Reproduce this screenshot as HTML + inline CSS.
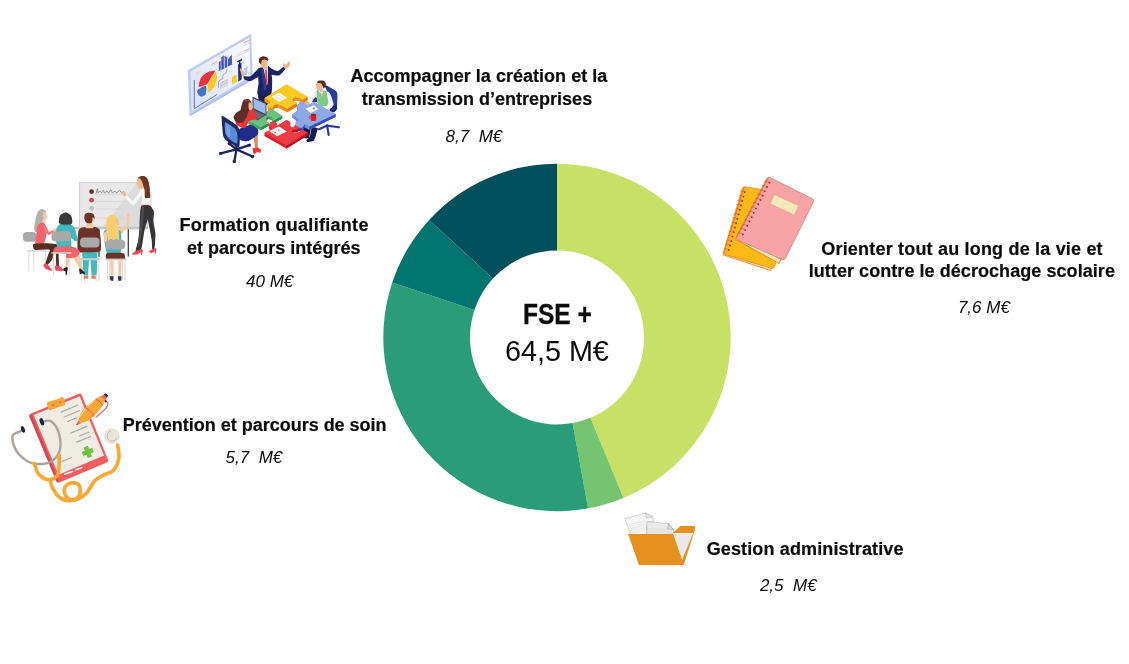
<!DOCTYPE html>
<html lang="fr">
<head>
<meta charset="utf-8">
<title>FSE+ 64,5 M€</title>
<style>
html,body{margin:0;padding:0;background:#fff;}
body{width:1129px;height:664px;position:relative;overflow:hidden;font-family:"Liberation Sans",sans-serif;color:#0b0b0b;}
.t{position:absolute;white-space:nowrap;line-height:1;}
.b{font-weight:bold;font-size:18px;-webkit-text-stroke:0.2px #0b0b0b;}
.i{font-style:italic;font-size:17px;}
svg{position:absolute;left:0;top:0;}
</style>
</head>
<body>
<svg id="chart" width="1129" height="664" viewBox="0 0 1129 664">
<path d="M557.00 163.75A173.7 173.7 0 0 1 623.47 497.93L590.29 417.83A87 87 0 0 0 557.00 250.45Z" fill="#C8E065"/>
<path d="M623.47 497.93A173.7 173.7 0 0 1 588.06 508.35L572.56 423.05A87 87 0 0 0 590.29 417.83Z" fill="#74C471"/>
<path d="M588.06 508.35A173.7 173.7 0 0 1 392.18 282.62L474.45 309.99A87 87 0 0 0 572.56 423.05Z" fill="#2A9D78"/>
<path d="M392.18 282.62A173.7 173.7 0 0 1 429.14 219.88L492.96 278.56A87 87 0 0 0 474.45 309.99Z" fill="#00756F"/>
<path d="M429.14 219.88A173.7 173.7 0 0 1 557.00 163.75L557.00 250.45A87 87 0 0 0 492.96 278.56Z" fill="#004F5C"/>
<g id="folder" transform="translate(610,500) scale(0.12048)">
<!-- back sheet -->
<path d="M125 155L292 108L352 138L366 182L312 182L300 290L170 290Z" fill="#f6f6f6" stroke="#8f8f8f" stroke-width="3" stroke-linejoin="round"/>
<path d="M292 108L305 150L352 138Z" fill="#ececec" stroke="#8f8f8f" stroke-width="3" stroke-linejoin="round"/>
<g stroke="#cfcfcf" stroke-width="3" fill="none">
<path d="M150 205L300 172"/><path d="M155 222L302 190"/><path d="M160 240L302 208"/><path d="M165 258L302 226"/><path d="M170 275L302 245"/>
</g>
<!-- front sheet -->
<path d="M306 180L488 196L528 250L528 290L306 290Z" fill="#ebebeb" stroke="#8f8f8f" stroke-width="3" stroke-linejoin="round"/>
<path d="M488 196L476 240L528 250Z" fill="#d6d6d6" stroke="#8f8f8f" stroke-width="3" stroke-linejoin="round"/>
<g stroke="#cdcdcd" stroke-width="3" fill="none"><path d="M312 238L470 245"/><path d="M312 258L520 262"/><path d="M312 274L522 276"/></g>
<!-- folder back -->
<path d="M528 266L584 215L705 215L705 246L612 540L560 540L520 283Z" fill="#e6911e"/>
<!-- inner paper -->
<path d="M522 274L690 274L598 497Z" fill="#e9e9e9"/>
<path d="M522 274L690 274L687 283L526 283Z" fill="#f7f7f7"/>
<!-- folder front -->
<path d="M150 283L520 283L610 540L240 540Z" fill="#e6911e"/>
</g>
<g id="notebooks" transform="translate(710,165) scale(0.18072)">
<path d="M72 497L83 478L345 560L335 584Z" fill="#f6ecc0" stroke="#f47a20" stroke-width="5" stroke-linejoin="round"/>
<path d="M192 120Q182 122 178 132L76 480Q74 492 86 496L340 572Q352 574 357 562L470 250L280 135Z" fill="#fbb918" stroke="#f47a20" stroke-width="4" stroke-linejoin="round"/>
<path d="M188 122L76 486" stroke="#f47a20" stroke-width="7" fill="none" stroke-linecap="round"/>
<path d="M192.0 150.0q-13.0 -11.0 -26.0 -4.0" stroke="#c8502c" stroke-width="3" fill="none"/>
<circle cx="192.0" cy="150.0" r="5" fill="#a02830"/>
<path d="M185.2 174.6q-13.0 -11.0 -26.0 -4.0" stroke="#c8502c" stroke-width="3" fill="none"/>
<circle cx="185.2" cy="174.6" r="5" fill="#a02830"/>
<path d="M178.5 199.2q-13.0 -11.0 -26.0 -4.0" stroke="#c8502c" stroke-width="3" fill="none"/>
<circle cx="178.5" cy="199.2" r="5" fill="#a02830"/>
<path d="M171.7 223.8q-13.0 -11.0 -26.0 -4.0" stroke="#c8502c" stroke-width="3" fill="none"/>
<circle cx="171.7" cy="223.8" r="5" fill="#a02830"/>
<path d="M164.9 248.5q-13.0 -11.0 -26.0 -4.0" stroke="#c8502c" stroke-width="3" fill="none"/>
<circle cx="164.9" cy="248.5" r="5" fill="#a02830"/>
<path d="M158.2 273.1q-13.0 -11.0 -26.0 -4.0" stroke="#c8502c" stroke-width="3" fill="none"/>
<circle cx="158.2" cy="273.1" r="5" fill="#a02830"/>
<path d="M151.4 297.7q-13.0 -11.0 -26.0 -4.0" stroke="#c8502c" stroke-width="3" fill="none"/>
<circle cx="151.4" cy="297.7" r="5" fill="#a02830"/>
<path d="M144.6 322.3q-13.0 -11.0 -26.0 -4.0" stroke="#c8502c" stroke-width="3" fill="none"/>
<circle cx="144.6" cy="322.3" r="5" fill="#a02830"/>
<path d="M137.8 346.9q-13.0 -11.0 -26.0 -4.0" stroke="#c8502c" stroke-width="3" fill="none"/>
<circle cx="137.8" cy="346.9" r="5" fill="#a02830"/>
<path d="M131.1 371.5q-13.0 -11.0 -26.0 -4.0" stroke="#c8502c" stroke-width="3" fill="none"/>
<circle cx="131.1" cy="371.5" r="5" fill="#a02830"/>
<path d="M124.3 396.2q-13.0 -11.0 -26.0 -4.0" stroke="#c8502c" stroke-width="3" fill="none"/>
<circle cx="124.3" cy="396.2" r="5" fill="#a02830"/>
<path d="M117.5 420.8q-13.0 -11.0 -26.0 -4.0" stroke="#c8502c" stroke-width="3" fill="none"/>
<circle cx="117.5" cy="420.8" r="5" fill="#a02830"/>
<path d="M110.8 445.4q-13.0 -11.0 -26.0 -4.0" stroke="#c8502c" stroke-width="3" fill="none"/>
<circle cx="110.8" cy="445.4" r="5" fill="#a02830"/>
<path d="M104.0 470.0q-13.0 -11.0 -26.0 -4.0" stroke="#c8502c" stroke-width="3" fill="none"/>
<circle cx="104.0" cy="470.0" r="5" fill="#a02830"/>
<path d="M140 410L152 392L395 518L382 545Z" fill="#f3e9b8" stroke="#f47a20" stroke-width="5" stroke-linejoin="round"/>
<path d="M330 68Q320 66 314 76L146 396Q142 408 154 414L400 524Q412 528 418 516L573 204Q577 192 566 186Z" fill="#f8a3a6" stroke="#c9606a" stroke-width="3" stroke-linejoin="round"/>
<path d="M322 70L146 402" stroke="#f47a20" stroke-width="7" fill="none" stroke-linecap="round"/>
<path d="M356 164L490 226L466 276L334 214Z" fill="#f3e9b8" stroke="#c9a46a" stroke-width="2" stroke-linejoin="round"/>
<path d="M328.0 98.0q-14.0 -13.0 -28.0 -8.0" stroke="#c04848" stroke-width="3" fill="none"/>
<circle cx="328.0" cy="98.0" r="5" fill="#a02830"/>
<path d="M315.8 121.8q-14.0 -13.0 -28.0 -8.0" stroke="#c04848" stroke-width="3" fill="none"/>
<circle cx="315.8" cy="121.8" r="5" fill="#a02830"/>
<path d="M303.7 145.7q-14.0 -13.0 -28.0 -8.0" stroke="#c04848" stroke-width="3" fill="none"/>
<circle cx="303.7" cy="145.7" r="5" fill="#a02830"/>
<path d="M291.5 169.5q-14.0 -13.0 -28.0 -8.0" stroke="#c04848" stroke-width="3" fill="none"/>
<circle cx="291.5" cy="169.5" r="5" fill="#a02830"/>
<path d="M279.3 193.3q-14.0 -13.0 -28.0 -8.0" stroke="#c04848" stroke-width="3" fill="none"/>
<circle cx="279.3" cy="193.3" r="5" fill="#a02830"/>
<path d="M267.2 217.2q-14.0 -13.0 -28.0 -8.0" stroke="#c04848" stroke-width="3" fill="none"/>
<circle cx="267.2" cy="217.2" r="5" fill="#a02830"/>
<path d="M255.0 241.0q-14.0 -13.0 -28.0 -8.0" stroke="#c04848" stroke-width="3" fill="none"/>
<circle cx="255.0" cy="241.0" r="5" fill="#a02830"/>
<path d="M242.8 264.8q-14.0 -13.0 -28.0 -8.0" stroke="#c04848" stroke-width="3" fill="none"/>
<circle cx="242.8" cy="264.8" r="5" fill="#a02830"/>
<path d="M230.7 288.7q-14.0 -13.0 -28.0 -8.0" stroke="#c04848" stroke-width="3" fill="none"/>
<circle cx="230.7" cy="288.7" r="5" fill="#a02830"/>
<path d="M218.5 312.5q-14.0 -13.0 -28.0 -8.0" stroke="#c04848" stroke-width="3" fill="none"/>
<circle cx="218.5" cy="312.5" r="5" fill="#a02830"/>
<path d="M206.3 336.3q-14.0 -13.0 -28.0 -8.0" stroke="#c04848" stroke-width="3" fill="none"/>
<circle cx="206.3" cy="336.3" r="5" fill="#a02830"/>
<path d="M194.2 360.2q-14.0 -13.0 -28.0 -8.0" stroke="#c04848" stroke-width="3" fill="none"/>
<circle cx="194.2" cy="360.2" r="5" fill="#a02830"/>
<path d="M182.0 384.0q-14.0 -13.0 -28.0 -8.0" stroke="#c04848" stroke-width="3" fill="none"/>
<circle cx="182.0" cy="384.0" r="5" fill="#a02830"/>
</g>
<g id="clipboard" transform="translate(0,380) scale(0.2032)">
<path d="M248.0 494.0C249.7 500.0 250.8 516.2 258.0 530.0C265.2 543.8 278.2 566.3 291.5 577.0C304.8 587.7 322.4 594.0 338.0 594.0C353.6 594.0 375.5 585.3 385.0 577.0C394.5 568.7 395.0 554.5 395.0 544.0C395.0 533.5 392.2 520.2 385.0 514.0C377.8 507.8 362.2 505.3 351.6 507.0C341.0 508.7 327.1 515.7 321.5 524.0C315.9 532.3 315.2 547.0 318.0 557.0C320.8 567.0 329.1 578.4 338.0 584.0C346.9 589.6 357.1 595.0 371.6 590.5C386.1 586.0 409.4 572.6 425.0 557.0C440.6 541.4 451.7 511.5 465.0 497.0C478.3 482.5 489.4 478.9 505.0 470.0C520.6 461.1 545.2 458.1 558.5 443.7C571.8 429.3 581.7 404.2 585.0 383.6C588.3 363.0 579.6 330.6 578.5 320.0" fill="none" stroke="#f9a834" stroke-width="18" stroke-linecap="round" stroke-linejoin="round"/>
<!-- board -->
<path d="M150 166L388 68Q398 64 402 74L532 392Q536 402 526 406L292 504Q282 508 278 498L146 180Q142 170 150 166Z" fill="#f25d5f"/>
<path d="M143 176L156 170L290 498L280 504Z" fill="#d84450"/>
<path d="M166 172L392 80L512 372L288 466Z" fill="#efece3"/>
<path d="M318 464L358 450M372 442L402 431" stroke="#fff" stroke-width="7" stroke-linecap="round" fill="none"/>
<!-- clip -->
<path d="M236 108L300 84Q310 82 314 90L322 112Q324 120 316 124L250 148Q240 150 238 142L230 120Q228 112 236 108Z" fill="#f9a834"/>
<circle cx="262" cy="124" r="7" fill="#f2707a"/><circle cx="296" cy="110" r="7" fill="#f2707a"/>
<path d="M262 98L296 86" stroke="#fff" stroke-width="5" stroke-linecap="round"/>
<g stroke="#b0a9a0" stroke-width="6" stroke-linecap="round" fill="none">
<path d="M300 158L380 124"/><path d="M316 182L392 150"/><path d="M332 204L378 186"/>
<path d="M346 262L428 228"/><path d="M392 276L438 256"/><path d="M378 306L446 278"/>
<path d="M306 400L352 382"/>
</g>
<path d="M412 332L432 324L438 340L454 334L462 354L446 360L452 376L432 384L426 368L410 374L402 354L418 348Z" fill="#6fc043"/>
<!-- grey tube -->
<path d="M108.0 250.0C106.3 250.6 105.8 249.0 98.0 253.5C90.2 258.0 64.3 262.0 61.0 277.0C57.7 292.0 66.3 323.6 78.0 343.6C89.7 363.6 112.2 385.3 131.0 397.0C149.8 408.7 169.8 413.7 191.0 413.7C212.2 413.7 240.7 408.7 258.0 397.0C275.3 385.3 290.0 366.9 295.0 343.6C300.0 320.3 295.2 280.4 288.0 257.0C280.8 233.7 264.0 212.4 251.5 203.5C239.0 194.6 219.4 203.5 213.0 203.5" fill="none" stroke="#aaa49c" stroke-width="12" stroke-linecap="round"/>
<path d="M168.0 410.0C171.8 419.0 179.3 450.7 191.0 464.0C202.7 477.3 222.3 490.0 238.0 490.0C253.7 490.0 276.1 484.0 285.0 464.0C293.9 444.0 290.4 385.7 291.5 370.0" fill="none" stroke="#f9a834" stroke-width="18" stroke-linecap="round"/>
<ellipse cx="113" cy="243" rx="9" ry="17" transform="rotate(-20 113 243)" fill="#1c2340"/>
<ellipse cx="206" cy="206" rx="10" ry="19" transform="rotate(-20 206 206)" fill="#1c2340"/>
<circle cx="550" cy="277" r="39" fill="#e9e5db"/>
<circle cx="552" cy="276" r="25" fill="none" stroke="#b9b3a8" stroke-width="4" stroke-dasharray="100 57" transform="rotate(20 552 276)"/>
<!-- pen -->
<g transform="translate(375.5,222.4) rotate(-45)">
<path d="M0 0L24 -10L24 10Z" fill="#f25d5f"/>
<path d="M0 0L7 -3L7 3Z" fill="#1c2340"/>
<path d="M18 0C40 -36 120 -38 190 -15L198 0L190 15C120 38 40 36 18 0Z" fill="#f9a834"/>
<path d="M188 -14L204 -10L204 10L188 14Z" fill="#f25d5f"/>
<path d="M203 -11L214 -8L214 8L203 11Z" fill="#1c2340"/>
<path d="M92 -32Q102 0 92 32" fill="none" stroke="#ee5f66" stroke-width="5"/>
<path d="M160 -24Q168 0 160 24" fill="none" stroke="#ee5f66" stroke-width="5"/>
<path d="M186 20C196 46 160 48 96 40" fill="none" stroke="#f25d5f" stroke-width="6" stroke-linecap="round"/>
<circle cx="186" cy="19" r="5" fill="#1c2340"/>
<path d="M45 -17L85 -25M108 -27L140 -24" stroke="#fdeccd" stroke-width="4" stroke-linecap="round"/>
</g>
</g>
<g id="classroom">
<path d="M99.0 227.8L99.0 256.8" fill="none" stroke="#3a3a3a" stroke-width="1.27" stroke-linecap="butt" stroke-linejoin="round" />
<path d="M128.3 227.8L128.3 256.4" fill="none" stroke="#3a3a3a" stroke-width="1.27" stroke-linecap="butt" stroke-linejoin="round" />
<rect x="79.0" y="181.9" width="69.2" height="45.5" rx="0.0" fill="#d2d2d2"/>
<rect x="80.1" y="183.0" width="67.2" height="43.4" rx="0.0" fill="#dcdcdc"/>
<path d="M80.1 183.0L136.4 183.0L103.9 226.4L80.1 226.4Z" fill="#e8e8e8" />
<rect x="73.6" y="227.1" width="74.6" height="2.2" rx="0.0" fill="#c4c4c4"/>
<circle cx="91.6" cy="191.7" r="2.35" fill="#6b3328"/>
<circle cx="91.6" cy="200.2" r="2.35" fill="#d8414f"/>
<circle cx="91.6" cy="208.3" r="2.35" fill="#bdbdbd"/>
<path d="M95.6 194.2L122.4 194.2" fill="none" stroke="#c6c6c6" stroke-width="0.45" stroke-linecap="round" stroke-linejoin="round" />
<path d="M95.6 201.4L122.4 201.4" fill="none" stroke="#c6c6c6" stroke-width="0.45" stroke-linecap="round" stroke-linejoin="round" />
<path d="M95.6 209.0L122.4 209.0" fill="none" stroke="#c6c6c6" stroke-width="0.45" stroke-linecap="round" stroke-linejoin="round" />
<path d="M95.6 218.1L122.4 218.1" fill="none" stroke="#c6c6c6" stroke-width="0.45" stroke-linecap="round" stroke-linejoin="round" />
<path d="M96.3 193.1C96.5 192.4 97.1 188.9 97.4 188.8C97.7 188.7 97.7 192.4 98.1 192.8C98.6 193.1 99.4 191.0 99.9 191.0C100.5 191.0 100.8 192.9 101.4 192.8C101.9 192.7 102.7 190.2 103.2 190.2C103.7 190.3 104.0 192.8 104.6 193.0C105.2 193.1 106.1 190.9 106.8 191.0C107.5 191.0 108.0 193.3 108.6 193.1C109.3 193.0 110.2 189.9 110.8 189.9C111.4 189.8 111.6 192.5 112.2 192.8C112.9 193.0 114.0 191.3 114.8 191.3C115.5 191.3 116.1 192.9 116.9 192.8C117.7 192.7 118.7 190.7 119.5 190.6C120.2 190.5 120.5 192.2 121.3 192.4C122.0 192.6 123.4 191.8 123.8 191.7" fill="none" stroke="#3a3030" stroke-width="0.45" stroke-linecap="round" stroke-linejoin="round" />
<path d="M138.0 178.1C138.0 177.4 139.8 176.5 140.7 176.2C141.6 176.0 143.8 175.9 144.7 176.2C145.6 176.6 146.9 177.7 147.5 178.8C148.0 180.0 148.8 182.5 149.2 184.9C149.5 187.4 150.5 195.4 150.3 197.1C150.1 198.9 148.2 198.0 147.5 198.1C146.7 198.1 145.2 198.5 144.7 197.5C144.3 196.4 144.6 191.9 144.4 190.3C144.2 188.8 143.9 186.8 143.4 185.6C142.9 184.4 141.4 182.5 140.7 181.5C140.0 180.5 138.0 178.8 138.0 178.1Z" fill="#6e3626" />
<path d="M137.2 179.5C137.5 178.6 138.5 177.9 139.3 178.3C140.1 178.6 141.4 180.2 142.0 181.5C142.6 182.9 143.1 185.2 142.8 186.3C142.6 187.3 141.5 187.6 140.7 187.8C139.9 187.9 138.6 187.6 138.0 186.9C137.3 186.2 137.1 184.8 136.9 183.6C136.8 182.3 136.8 180.4 137.2 179.5Z" fill="#f6b98b" />
<path d="M140.4 186.3L143.4 185.7L144.1 189.8L141.4 190.2Z" fill="#f6b98b" />
<path d="M141.5 189.5C141.7 188.7 143.3 188.4 144.1 188.4C144.8 188.5 148.1 189.5 148.8 190.3C149.5 191.2 150.5 195.6 150.7 197.1C150.9 198.6 151.3 204.3 150.4 205.1C149.5 205.9 142.6 205.9 141.8 205.1C140.9 204.3 142.3 198.7 142.3 197.1C142.3 195.6 141.3 190.4 141.5 189.5Z" fill="#f7f7f7" />
<path d="M148.9 190.6L151.4 192.4L152.1 200.5L150.4 205.1L150.0 197.1Z" fill="#e4e4e4" />
<path d="M141.1 189.4L144.6 191.2L134.0 205.5L131.1 203.8Z" fill="#f8f8f8" />
<path d="M131.1 203.8L134.0 205.5L133.5 201.9L126.3 194.9L124.4 196.7Z" fill="#f8f8f8" />
<path d="M134.0 205.5L133.5 202.1" fill="none" stroke="#dcdcdc" stroke-width="0.27" stroke-linecap="round" stroke-linejoin="round" />
<path d="M121.8 192.4C122.1 191.9 123.0 191.3 123.7 191.6C124.5 191.8 125.8 193.0 126.2 193.7C126.5 194.5 126.3 195.8 125.9 196.2C125.5 196.5 124.3 196.2 123.7 195.9C123.1 195.6 122.6 195.0 122.2 194.4C121.9 193.8 121.6 192.8 121.8 192.4Z" fill="#f6b98b" />
<path d="M143.1 183.6C143.4 182.2 146.0 180.0 146.8 180.2C147.6 180.4 148.5 182.7 148.9 184.9C149.4 187.2 150.5 195.4 150.3 197.1C150.1 198.9 148.2 198.0 147.5 198.1C146.8 198.1 145.4 198.5 145.0 197.5C144.6 196.4 144.9 192.2 144.6 190.3C144.4 188.5 142.8 184.9 143.1 183.6Z" fill="#6e3626" />
<path d="M141.6 204.7L150.4 204.7L150.4 206.2L141.4 206.2Z" fill="#f0605f" />
<path d="M145.6 206.1C145.9 204.9 149.5 205.5 150.3 206.1C151.2 206.6 153.5 210.2 153.9 211.7C154.2 213.3 153.3 219.4 153.5 221.5C153.6 223.7 155.3 231.1 155.4 233.3C155.6 235.4 155.1 241.5 155.0 243.1C154.9 244.6 154.7 248.3 154.4 248.9C154.2 249.6 152.6 250.3 152.3 249.5C152.0 248.7 152.0 243.1 151.8 241.1C151.6 239.1 150.3 231.7 149.8 229.4C149.4 227.0 147.8 219.9 147.4 217.6C147.0 215.3 145.3 207.2 145.6 206.1Z" fill="#353537" />
<path d="M141.5 206.1C142.5 205.2 148.6 205.0 149.4 206.1C150.1 207.1 149.0 214.3 148.6 216.6C148.1 219.0 145.2 227.1 144.7 229.4C144.1 231.6 143.4 237.1 143.1 239.1C142.7 241.1 141.9 248.1 141.1 249.3C140.4 250.5 136.0 252.1 135.7 251.3C135.3 250.5 137.6 243.3 138.0 241.1C138.4 238.9 139.2 232.0 139.4 229.4C139.6 226.7 139.7 217.0 140.0 214.7C140.2 212.3 140.6 206.9 141.5 206.1Z" fill="#353537" />
<path d="M142.1 207.8C142.5 205.7 144.1 205.7 144.1 207.8C144.1 210.0 142.6 225.5 142.1 229.4C141.6 233.2 139.6 244.2 139.2 246.0C138.7 247.7 137.7 248.6 137.8 247.0C137.9 245.3 139.7 233.3 140.2 229.4C140.6 225.4 141.7 210.0 142.1 207.8Z" fill="#505054" />
<path d="M132.1 253.6L135.7 250.9L141.1 248.9L142.9 249.9L142.1 255.0L141.1 255.0L140.7 252.1L137.6 254.4L132.7 254.8Z" fill="#f0484f" />
<path d="M148.8 250.9L152.3 249.4L155.2 247.9L156.4 248.9L155.8 253.8L154.8 253.8L154.6 251.1L151.8 253.2L149.2 252.1Z" fill="#f0484f" />
<path d="M81.5 259.6L81.5 281.2" fill="none" stroke="#d9d9d9" stroke-width="1.08" stroke-linecap="butt" stroke-linejoin="round" />
<path d="M84.4 259.6L84.4 281.2" fill="none" stroke="#d9d9d9" stroke-width="1.08" stroke-linecap="butt" stroke-linejoin="round" />
<path d="M96.0 259.6L96.0 281.2" fill="none" stroke="#d9d9d9" stroke-width="1.08" stroke-linecap="butt" stroke-linejoin="round" />
<path d="M98.9 259.6L98.9 281.2" fill="none" stroke="#d9d9d9" stroke-width="1.08" stroke-linecap="butt" stroke-linejoin="round" />
<path d="M78.3 231.4C78.6 229.0 80.6 227.9 82.2 227.5C83.9 227.0 93.1 226.8 94.9 227.1C96.6 227.4 99.0 228.3 99.6 230.7C100.1 233.1 102.4 249.2 100.3 251.3C98.2 253.4 80.8 253.7 78.6 251.7C76.4 249.7 77.9 233.9 78.3 231.4Z" fill="#6b3328" />
<path d="M86.2 222.4L92.7 222.4L93.4 228.2L85.8 228.2Z" fill="#f6c9a6" />
<circle cx="89.5" cy="218.4" r="4.88" fill="#f6c9a6"/>
<path d="M84.4 218.8C84.2 217.4 84.3 215.1 85.1 214.1C86.0 213.1 88.0 212.6 89.5 212.7C90.9 212.7 93.0 213.4 93.8 214.5C94.6 215.5 94.7 218.7 94.5 219.2C94.3 219.6 93.2 216.7 92.7 217.4C92.2 218.0 92.7 221.9 91.6 222.8C90.6 223.7 87.8 223.4 86.6 222.8C85.4 222.1 84.6 220.2 84.4 218.8Z" fill="#6b3328" />
<path d="M82.2 252.2L97.4 252.2L96.7 274.8L91.6 275.5L90.5 260.4L89.1 260.4L88.0 275.5L83.3 274.8Z" fill="#45b8bf" />
<rect x="80.1" y="237.6" width="19.5" height="9.8" rx="4.0" fill="#a9a9a9"/>
<rect x="79.7" y="258.2" width="20.2" height="2.0" rx="0.0" fill="#cfcfcf"/>
<path d="M84.0 275.5L88.4 275.5L88.4 278.8L83.7 278.8Z" fill="#c98d6a" />
<path d="M91.3 275.5L95.6 275.5L96.0 278.8L91.3 278.8Z" fill="#c98d6a" />
<path d="M107.5 260.0L107.5 280.6" fill="none" stroke="#d9d9d9" stroke-width="1.08" stroke-linecap="butt" stroke-linejoin="round" />
<path d="M109.7 260.0L109.7 280.6" fill="none" stroke="#d9d9d9" stroke-width="1.08" stroke-linecap="butt" stroke-linejoin="round" />
<path d="M122.4 260.0L122.4 280.6" fill="none" stroke="#d9d9d9" stroke-width="1.08" stroke-linecap="butt" stroke-linejoin="round" />
<path d="M124.9 260.0L124.9 280.6" fill="none" stroke="#d9d9d9" stroke-width="1.08" stroke-linecap="butt" stroke-linejoin="round" />
<path d="M118.4 231.1L122.4 233.3L129.2 224.2L129.9 215.2L127.8 211.9L126.7 215.5L127.1 223.5Z" fill="#f6c9a6" />
<path d="M103.6 233.3C103.5 230.7 105.3 230.0 106.8 229.6C108.3 229.3 116.9 229.2 118.4 229.6C119.8 230.0 121.1 231.1 121.3 233.6C121.4 236.1 121.6 252.8 120.2 254.9C118.8 257.1 109.2 257.1 107.5 254.9C105.9 252.8 103.6 235.8 103.6 233.3Z" fill="#45b8bf" />
<path d="M103.6 233.3L106.8 230.7L107.2 242.3L104.3 242.3Z" fill="#f6c9a6" />
<path d="M106.1 224.2C106.2 222.4 106.8 218.5 107.5 217.4C108.2 216.2 111.1 214.5 112.2 214.5C113.3 214.5 116.2 216.2 116.9 217.4C117.6 218.5 118.1 221.5 118.4 224.2C118.6 227.0 119.4 239.2 119.1 240.8C118.8 242.5 116.8 238.6 116.2 238.7C115.6 238.8 114.3 241.9 113.7 241.9C113.1 241.9 111.8 238.8 111.1 238.7C110.5 238.6 108.8 241.8 108.3 241.2C107.7 240.6 107.1 235.2 106.8 233.3C106.6 231.3 106.0 226.1 106.1 224.2Z" fill="#f7ce6b" />
<path d="M116.2 219.2C116.4 218.4 117.7 219.8 118.0 220.6C118.4 221.4 118.6 223.5 118.4 224.2C118.2 224.9 117.3 225.8 116.9 224.9C116.6 224.1 116.0 219.9 116.2 219.2Z" fill="#f3b98f" />
<rect x="105.4" y="239.8" width="19.9" height="9.4" rx="4.0" fill="#a9a9a9"/>
<path d="M107.2 253.1C108.8 252.5 121.7 252.5 123.4 253.1C125.1 253.8 125.8 258.7 124.2 259.3C122.5 259.9 108.5 259.9 106.8 259.3C105.1 258.7 105.5 253.8 107.2 253.1Z" fill="#6b3328" />
<rect x="105.4" y="258.6" width="21.3" height="1.8" rx="0.0" fill="#cfcfcf"/>
<path d="M110.1 260.4L113.7 260.4L113.3 277.0L110.8 277.0Z" fill="#f6c9a6" />
<path d="M118.0 260.4L121.6 260.4L120.9 277.0L118.4 277.0Z" fill="#f6c9a6" />
<path d="M109.7 276.3L113.7 276.3L113.3 281.0L110.4 280.6Z" fill="#2d3556" />
<path d="M117.7 276.3L121.6 276.3L121.3 280.6L118.4 281.0Z" fill="#2d3556" />
<path d="M28.8 251.2L28.8 271.1" fill="none" stroke="#d9d9d9" stroke-width="0.90" stroke-linecap="butt" stroke-linejoin="round" />
<path d="M33.8 251.2L33.8 271.1" fill="none" stroke="#d9d9d9" stroke-width="0.90" stroke-linecap="butt" stroke-linejoin="round" />
<path d="M45.5 251.2L45.5 264.0" fill="none" stroke="#d9d9d9" stroke-width="0.90" stroke-linecap="butt" stroke-linejoin="round" />
<rect x="22.9" y="232.0" width="13.6" height="9.7" rx="3.6" fill="#a9a9a9"/>
<rect x="26.8" y="250.2" width="20.5" height="1.4" rx="0.0" fill="#d4d4d4"/>
<path d="M38.0 211.5C38.9 210.2 40.9 209.1 41.9 209.0C42.9 208.9 45.3 210.1 45.7 210.8C46.2 211.4 45.5 213.0 45.2 214.1C44.9 215.2 44.0 217.7 43.4 219.2C42.9 220.7 42.1 223.9 41.2 225.6C40.4 227.3 37.7 231.5 36.8 232.0C35.8 232.5 34.4 231.2 34.2 229.4C34.0 227.7 35.0 221.6 35.5 219.2C36.0 216.8 37.2 212.9 38.0 211.5Z" fill="#b5b1ae" />
<path d="M43.4 212.3C43.9 211.5 45.2 211.3 45.7 211.8C46.3 212.3 46.5 214.5 46.8 215.4C47.0 216.2 47.3 216.3 47.3 216.9C47.2 217.5 46.8 218.7 46.2 219.2C45.7 219.7 44.7 220.4 44.2 220.0C43.6 219.5 43.0 217.9 42.9 216.6C42.8 215.4 43.0 213.1 43.4 212.3Z" fill="#f6c9a6" />
<path d="M42.7 219.2L45.2 219.2L45.0 223.8L42.1 223.8Z" fill="#f6c9a6" />
<path d="M37.5 225.6C38.2 224.4 41.4 222.5 42.4 222.5C43.4 222.5 45.2 224.4 45.7 225.6C46.2 226.9 46.7 231.2 46.5 233.3C46.3 235.4 45.2 242.3 43.9 243.5C42.6 244.8 36.4 245.2 35.5 244.0C34.6 242.8 36.3 235.4 36.5 233.3C36.7 231.1 36.8 226.9 37.5 225.6Z" fill="#f0656d" />
<path d="M43.4 225.1L46.2 226.4L49.1 232.0L54.4 229.7L55.2 231.5L48.5 235.3L45.2 232.3Z" fill="#f3777d" />
<path d="M53.4 229.2C53.8 228.7 55.6 228.3 56.2 228.4C56.9 228.6 57.4 229.7 57.2 230.2C57.1 230.8 56.1 231.6 55.5 231.8C54.9 231.9 54.0 231.7 53.7 231.2C53.3 230.8 53.0 229.7 53.4 229.2Z" fill="#f6c9a6" />
<path d="M33.7 244.0C34.8 243.6 42.1 243.2 44.4 243.3C46.8 243.3 55.4 243.9 56.7 244.3C58.1 244.7 57.9 247.0 57.8 247.6C57.7 248.2 56.3 248.9 55.7 250.2C55.1 251.4 52.4 258.7 51.6 260.2C50.8 261.6 48.4 264.2 47.8 264.5C47.2 264.9 45.4 264.6 45.5 263.5C45.5 262.4 48.1 255.2 48.5 253.8C49.0 252.4 50.9 250.1 49.6 249.7C48.3 249.3 37.1 250.2 35.5 249.9C33.8 249.7 33.4 248.0 33.2 247.4C33.0 246.8 32.6 244.5 33.7 244.0Z" fill="#5a2d22" />
<path d="M55.7 250.2L58.5 251.2L59.0 266.1L56.2 266.1Z" fill="#5a2d22" />
<path d="M44.2 263.5L48.0 264.8L51.9 269.6L51.4 270.9L45.7 269.1L43.4 266.1Z" fill="#ee4b5b" />
<path d="M55.5 265.5L59.3 265.8L63.4 269.6L62.9 270.9L55.7 270.7L54.7 267.9Z" fill="#ee4b5b" />
<path d="M53.4 253.5L53.4 275.0" fill="none" stroke="#d9d9d9" stroke-width="1.02" stroke-linecap="butt" stroke-linejoin="round" />
<path d="M69.3 253.5L69.3 275.0" fill="none" stroke="#d9d9d9" stroke-width="1.02" stroke-linecap="butt" stroke-linejoin="round" />
<path d="M67.2 253.5L67.2 275.0" fill="none" stroke="#d9d9d9" stroke-width="0.77" stroke-linecap="butt" stroke-linejoin="round" />
<path d="M71.3 253.8L79.0 253.8L84.1 271.7L81.6 272.5Z" fill="#f6c9a6" />
<path d="M66.2 256.3L70.1 256.3L67.5 269.1L65.7 269.1Z" fill="#f6c9a6" />
<path d="M56.2 229.4C56.5 227.2 58.3 225.3 59.8 224.8C61.3 224.4 69.8 224.4 71.3 224.8C72.9 225.3 74.5 227.9 75.2 229.4C75.8 231.0 77.7 238.8 77.7 239.9C77.7 241.1 75.8 241.4 75.2 241.2C74.5 241.1 71.8 237.8 71.3 238.4C70.9 239.0 72.2 246.0 70.8 246.9C69.4 247.7 58.7 248.6 57.2 246.9C55.8 245.1 56.0 231.6 56.2 229.4Z" fill="#45b8bf" />
<path d="M59.3 223.8L71.3 223.8L70.8 225.6L59.8 225.6Z" fill="#3aa3aa" />
<path d="M59.2 223.0C58.4 221.8 59.2 216.8 60.1 215.4C60.9 214.0 64.2 212.5 65.7 212.5C67.2 212.6 70.2 214.2 71.1 215.6C71.9 217.1 72.8 222.4 72.1 223.6C71.4 224.8 67.4 224.6 65.7 224.6C64.0 224.5 59.9 224.3 59.2 223.0Z" fill="#3b3b3b" />
<path d="M55.7 247.1C57.5 246.4 69.0 246.0 71.3 246.3C73.7 246.7 78.2 249.4 79.0 250.2C79.8 250.9 79.9 253.0 79.5 253.8C79.1 254.5 76.5 257.2 75.2 257.6C73.8 258.0 67.2 258.3 66.2 257.9C65.3 257.5 67.0 254.3 65.7 253.8C64.4 253.3 54.4 253.7 53.4 253.0C52.4 252.3 53.9 247.8 55.7 247.1Z" fill="#f0656d" />
<rect x="51.5" y="231.2" width="19.5" height="10.0" rx="3.8" fill="#a9a9a9"/>
<rect x="51.4" y="252.2" width="20.0" height="1.5" rx="0.0" fill="#d4d4d4"/>
<path d="M63.1 269.1L66.7 266.8L67.7 267.9L66.7 275.0L65.7 275.0L65.4 271.2L63.6 270.7Z" fill="#222" />
<path d="M79.0 269.1L80.5 268.6L85.2 272.7L84.6 274.3L81.6 273.2L80.8 274.3L79.8 274.3Z" fill="#222" />
</g>
<g id="meeting">
<defs><linearGradient id="bg" x1="1" y1="0" x2="0" y2="1"><stop offset="0" stop-color="#fbfcff"/><stop offset="1" stop-color="#d6e0f9"/></linearGradient></defs>
<path d="M187.8 70.2L251.1 33.7L252.9 79.5L189.6 116.2Z" fill="#bccaf5" />
<path d="M189.6 114.7L252.9 78.0L252.9 79.5L189.6 116.2Z" fill="#aabcf0" />
<path d="M190.2 71.7L249.3 37.6L250.5 76.5L191.7 112.0Z" fill="url(#bg)" />
<path d="M194.3 80.0L194.3 108.6L216.9 94.6" fill="none" stroke="#1d2b6e" stroke-width="0.60" stroke-linecap="butt" stroke-linejoin="round" />
<path d="M198.8 86.7C198.1 86.0 200.0 79.4 201.1 77.7C202.1 76.0 206.2 72.8 207.9 72.0C209.5 71.2 214.6 70.3 214.9 70.9C215.3 71.6 211.8 76.2 210.9 77.7C210.0 79.2 208.5 83.0 207.1 84.0C205.7 85.1 199.5 87.5 198.8 86.7Z" fill="#e8343f" />
<path d="M215.8 72.0C216.5 71.9 217.2 76.0 217.0 77.7C216.9 79.4 215.3 85.0 214.3 86.7C213.3 88.4 209.4 92.7 208.6 92.4C207.8 92.2 207.4 86.6 207.7 84.9C208.1 83.2 210.7 79.5 211.6 78.0C212.6 76.5 215.2 72.0 215.8 72.0Z" fill="#f9cb1e" />
<path d="M197.5 90.0C198.4 89.1 204.9 85.3 205.9 85.8C206.8 86.4 206.2 93.3 205.6 94.6C205.0 95.8 202.0 96.7 201.1 96.7C200.2 96.6 198.5 95.0 198.1 94.3C197.6 93.5 196.6 91.0 197.5 90.0Z" fill="#4a72c4" />
<path d="M218.8 61.9L220.7 60.8L220.7 70.2L218.8 71.1Z" fill="#3a5fc0" />
<path d="M221.3 57.4L223.7 55.1L224.0 68.7L221.3 69.9Z" fill="#3a5fc0" />
<path d="M224.6 55.9L227.0 57.4L227.3 66.9L224.6 68.4Z" fill="#3a5fc0" />
<path d="M227.9 59.6L231.8 54.4L232.1 64.4L227.9 66.6Z" fill="#3a5fc0" />
<path d="M219.4 70.2C220.0 68.4 221.8 62.0 222.9 59.6C224.0 57.2 224.9 55.7 225.9 55.9C226.9 56.0 227.9 59.0 228.9 60.4C229.9 61.8 231.4 63.8 231.9 64.4" fill="none" stroke="#e8343f" stroke-width="0.45" stroke-linecap="round" stroke-linejoin="round" />
<path d="M218.5 88.2L218.5 81.0L222.9 78.4L222.9 74.7L225.9 72.9L227.0 69.0" fill="none" stroke="#2a3f9a" stroke-width="0.38" stroke-linecap="butt" stroke-linejoin="round" />
<path d="M211.6 64.4L217.0 61.4" fill="none" stroke="#e8343f" stroke-width="0.45" stroke-linecap="butt" stroke-linejoin="round" />
<path d="M211.9 66.0L217.3 62.9" fill="none" stroke="#f6a28c" stroke-width="0.45" stroke-linecap="butt" stroke-linejoin="round" />
<path d="M195.8 73.5L201.2 70.5" fill="none" stroke="#f9cb1e" stroke-width="0.45" stroke-linecap="butt" stroke-linejoin="round" />
<path d="M196.3 75.0L201.7 72.0" fill="none" stroke="#f9cb1e" stroke-width="0.45" stroke-linecap="butt" stroke-linejoin="round" />
<path d="M236.5 55.1L241.9 52.1" fill="none" stroke="#f9cb1e" stroke-width="0.45" stroke-linecap="butt" stroke-linejoin="round" />
<path d="M236.6 56.6L242.0 53.6" fill="none" stroke="#9db4ee" stroke-width="0.45" stroke-linecap="butt" stroke-linejoin="round" />
<path d="M244.1 42.8L249.6 39.8" fill="none" stroke="#e8343f" stroke-width="0.45" stroke-linecap="butt" stroke-linejoin="round" />
<path d="M244.3 44.3L249.7 41.3" fill="none" stroke="#f6a28c" stroke-width="0.45" stroke-linecap="butt" stroke-linejoin="round" />
<path d="M244.4 45.8L249.9 42.8" fill="none" stroke="#9db4ee" stroke-width="0.45" stroke-linecap="butt" stroke-linejoin="round" />
<path d="M244.1 51.5L249.6 48.5" fill="none" stroke="#e8343f" stroke-width="0.45" stroke-linecap="butt" stroke-linejoin="round" />
<path d="M244.3 53.0L249.7 50.0" fill="none" stroke="#9db4ee" stroke-width="0.45" stroke-linecap="butt" stroke-linejoin="round" />
<path d="M220.3 83.4L227.9 79.5" fill="none" stroke="#e8343f" stroke-width="0.38" stroke-linecap="butt" stroke-linejoin="round" />
<path d="M220.3 84.8L227.9 80.9" fill="none" stroke="#9db4ee" stroke-width="0.38" stroke-linecap="butt" stroke-linejoin="round" />
<path d="M220.3 86.1L227.9 82.2" fill="none" stroke="#e8343f" stroke-width="0.38" stroke-linecap="butt" stroke-linejoin="round" />
<path d="M220.3 87.5L227.9 83.6" fill="none" stroke="#9db4ee" stroke-width="0.38" stroke-linecap="butt" stroke-linejoin="round" />
<path d="M220.3 88.8L227.9 84.9" fill="none" stroke="#9db4ee" stroke-width="0.38" stroke-linecap="butt" stroke-linejoin="round" />
<path d="M231.9 76.9L236.5 74.4L236.6 81.9L232.1 84.5Z" fill="#f9cb1e" />
<path d="M238.0 64.4L241.4 62.6L241.7 79.5L238.3 81.5Z" fill="#1f2d8b" />
<path d="M237.2 61.1L242.0 58.7L242.2 60.2L240.2 61.4L240.2 63.5L239.0 64.1L239.0 62.0L237.4 62.6Z" fill="#1f2d8b" />
<path d="M243.8 68.7L248.1 66.4L248.1 67.6L247.1 68.2L247.3 73.9L244.7 75.3L244.7 69.6L243.8 69.9Z" fill="#a9c4f2" />
<path d="M258.0 91.2L270.9 91.2L270.0 103.3L264.3 106.3L258.6 103.3Z" fill="#141d4d" />
<path d="M258.3 69.0C259.5 68.4 262.2 69.6 262.5 70.2C262.8 70.7 262.5 73.6 261.3 74.7C260.1 75.8 252.4 80.5 250.8 81.0C249.1 81.5 245.1 80.0 244.4 79.5C243.7 79.0 243.2 76.5 243.8 76.2C244.4 75.9 249.0 76.9 250.5 76.2C251.9 75.5 257.1 69.6 258.3 69.0Z" fill="#1a2562" />
<path d="M239.9 68.7C240.2 68.3 241.2 68.9 242.0 69.6C242.8 70.3 244.3 71.8 244.7 72.9C245.1 74.0 244.9 75.9 244.4 76.2C243.9 76.5 242.4 75.4 241.7 74.7C241.1 73.9 240.8 72.7 240.5 71.7C240.2 70.7 239.7 69.0 239.9 68.7Z" fill="#f2b48c" />
<path d="M268.1 66.0C268.4 65.7 270.9 68.1 271.8 68.7C272.8 69.2 276.7 71.3 277.9 71.1C279.1 70.9 283.1 66.8 283.9 66.6C284.6 66.3 285.8 68.1 285.4 69.0C284.9 69.8 280.7 74.7 279.4 75.3C278.0 75.9 272.9 75.0 271.8 74.7C270.8 74.3 268.9 72.5 268.5 71.7C268.2 70.8 267.7 66.3 268.1 66.0Z" fill="#1a2562" />
<path d="M283.9 62.9C284.4 62.7 285.4 64.7 286.3 64.4C287.1 64.1 288.4 61.1 289.0 61.1C289.6 61.1 290.1 63.3 289.9 64.4C289.7 65.6 288.7 67.4 287.8 68.1C286.9 68.7 285.5 68.7 284.8 68.4C284.0 68.0 283.4 66.9 283.3 66.0C283.1 65.0 283.4 63.2 283.9 62.9Z" fill="#f2b48c" />
<path d="M257.7 69.0C258.3 67.5 263.0 67.2 264.3 67.2C265.6 67.2 269.6 67.8 270.3 69.0C271.1 70.2 272.1 76.6 272.1 79.2C272.2 81.8 272.4 93.0 270.9 94.6C269.5 96.1 258.9 95.8 257.7 94.6C256.5 93.3 258.6 84.8 258.6 82.2C258.6 79.7 257.1 70.5 257.7 69.0Z" fill="#1a2562" />
<path d="M263.1 68.4L267.9 67.8L267.9 85.2L265.8 79.2Z" fill="#f4f4f8" />
<path d="M265.2 69.6L266.7 69.6L267.6 84.6L266.4 85.8L265.5 84.6Z" fill="#e8343f" />
<path d="M261.3 68.7L263.7 68.1L266.4 88.2L265.2 91.2L263.7 88.2Z" fill="#2a3d94" />
<path d="M262.5 65.7L266.4 65.0L266.7 69.0L263.7 69.6Z" fill="#f2b48c" />
<path d="M260.1 60.5C260.6 59.5 262.6 58.5 263.7 58.4C264.9 58.3 266.4 58.9 267.0 59.9C267.6 60.9 267.6 63.2 267.3 64.4C267.0 65.7 266.1 67.0 265.2 67.5C264.3 67.9 262.7 67.7 261.9 67.2C261.1 66.7 260.7 65.6 260.4 64.4C260.1 63.3 259.5 61.5 260.1 60.5Z" fill="#f2b48c" />
<path d="M258.9 61.7C258.7 60.7 259.0 58.7 259.8 57.8C260.6 56.9 262.4 56.3 263.7 56.3C265.0 56.3 266.9 57.1 267.6 57.8C268.3 58.6 268.4 60.5 267.9 60.8C267.5 61.1 265.9 59.7 264.9 59.6C263.9 59.6 262.6 59.8 261.9 60.5C261.3 61.2 261.5 63.6 261.0 63.8C260.5 64.0 259.1 62.7 258.9 61.7Z" fill="#5a2d1e" />
<path d="M324.8 86.3C324.8 85.7 326.0 85.2 327.1 85.7C328.2 86.2 335.1 90.3 336.1 91.3C337.2 92.2 337.3 93.3 337.4 94.9C337.5 96.4 337.2 105.1 337.0 106.6C336.9 108.2 336.2 109.9 335.8 110.4C335.3 110.9 333.1 111.6 332.5 111.5C331.9 111.4 330.0 110.6 329.8 109.3C329.6 108.0 331.0 100.3 330.7 98.5C330.4 96.7 327.7 92.5 327.1 91.3C326.5 90.0 324.8 86.9 324.8 86.3Z" fill="#2a3a9a" />
<path d="M329.8 106.8C330.4 106.2 335.8 105.2 336.5 105.4C337.2 105.5 337.4 107.9 337.2 108.6C337.0 109.3 335.0 111.9 334.3 112.2C333.6 112.5 330.8 112.0 330.4 111.5C329.9 111.0 329.2 107.4 329.8 106.8Z" fill="#1c2870" />
<path d="M311.6 98.7C311.8 98.2 314.7 97.0 315.4 97.0C316.0 97.0 317.5 98.2 317.7 98.7C317.9 99.2 317.9 101.8 317.3 102.1C316.8 102.4 313.2 102.4 312.6 102.1C312.1 101.8 311.3 99.2 311.6 98.7Z" fill="#2a3a9a" />
<path d="M327.1 125.6L338.7 127.2" fill="none" stroke="#2a3a9a" stroke-width="2.17" stroke-linecap="round" stroke-linejoin="round" />
<path d="M327.1 125.6L328.7 135.0" fill="none" stroke="#2a3a9a" stroke-width="2.17" stroke-linecap="round" stroke-linejoin="round" />
<path d="M327.1 125.6L319.0 129.2" fill="none" stroke="#2a3a9a" stroke-width="2.17" stroke-linecap="round" stroke-linejoin="round" />
<circle cx="338.7" cy="127.2" r="0.99" fill="#2a3a9a"/>
<path d="M302.7 125.6L310.8 129.2L309.0 138.2L302.7 138.2Z" fill="#141d4d" />
<path d="M311.7 126.5L318.0 128.2L315.1 137.9L313.7 141.1L307.4 142.2L306.5 140.2L310.0 136.5Z" fill="#141d4d" />
<path d="M316.1 90.4C316.9 89.6 319.0 89.2 319.3 89.5C319.7 89.7 320.5 92.1 319.9 93.1C319.3 94.1 314.6 98.3 313.6 99.4C312.5 100.5 309.7 103.6 309.0 103.9C308.3 104.2 306.3 102.8 306.5 102.1C306.7 101.4 309.9 97.9 310.8 96.7C311.8 95.5 315.2 91.1 316.1 90.4Z" fill="#eef3fb" />
<path d="M316.8 90.5C317.0 89.3 318.6 89.5 319.3 89.5C320.0 89.4 322.8 89.9 323.7 90.2C324.6 90.4 327.6 91.3 328.2 92.2C328.7 93.0 329.2 97.1 329.1 98.5C329.0 99.8 327.9 104.9 327.1 105.7C326.3 106.5 321.8 106.6 320.8 106.3C319.8 105.9 317.6 103.7 317.2 102.1C316.8 100.5 316.6 91.8 316.8 90.5Z" fill="#7fcb86" />
<path d="M318.6 90.0L323.7 90.2L321.0 96.7Z" fill="#f6f8fd" />
<path d="M320.4 92.7L321.3 92.7L321.1 96.3L320.6 96.3Z" fill="#e8343f" />
<path d="M326.7 92.3C326.8 91.2 329.1 91.9 329.8 93.1C330.5 94.2 333.5 102.4 333.6 103.9C333.7 105.5 331.6 108.0 330.7 108.6C329.8 109.3 325.1 110.5 324.4 110.4C323.6 110.3 322.7 108.5 323.1 107.9C323.6 107.3 328.4 106.0 328.7 104.4C329.1 102.9 326.6 93.5 326.7 92.3Z" fill="#f2f6fd" />
<path d="M305.1 102.1C305.3 101.2 306.8 100.7 307.6 101.0C308.4 101.3 309.6 103.1 309.8 104.1C309.9 105.1 309.3 106.7 308.7 107.2C308.0 107.6 306.6 107.5 306.0 106.6C305.4 105.8 304.8 103.0 305.1 102.1Z" fill="#f2b48c" />
<path d="M318.1 108.6C318.3 107.8 320.2 107.2 321.3 107.2C322.4 107.2 324.2 107.9 324.6 108.6C325.0 109.3 324.5 111.0 323.7 111.5C322.9 112.0 320.8 112.3 319.9 111.9C318.9 111.4 317.8 109.4 318.1 108.6Z" fill="#f2b48c" />
<path d="M319.2 88.2L322.6 88.6L322.8 91.8L320.1 91.8Z" fill="#f2b48c" />
<path d="M315.9 84.0C316.2 83.2 317.2 82.6 318.1 82.6C319.0 82.5 320.6 83.0 321.3 83.7C322.0 84.4 322.2 85.8 322.2 86.7C322.2 87.7 322.0 89.0 321.3 89.5C320.6 89.9 318.9 89.9 318.1 89.6C317.2 89.3 316.6 88.6 316.3 87.6C315.9 86.7 315.6 84.9 315.9 84.0Z" fill="#f2b48c" />
<path d="M316.8 82.6C316.9 82.3 318.1 80.8 319.0 80.6C319.9 80.4 322.8 80.4 323.7 80.8C324.6 81.2 325.6 82.9 325.8 83.7C326.1 84.4 325.8 85.9 325.5 86.6C325.2 87.2 324.1 88.5 323.7 88.4C323.3 88.3 322.7 86.5 322.4 85.8C322.1 85.2 321.8 84.0 321.3 83.7C320.8 83.3 319.2 83.3 318.6 83.1C318.0 83.0 316.8 82.9 316.8 82.6Z" fill="#5a2a1c" />
<path d="M264.6 101.5L286.6 87.9L307.5 100.3L302.4 103.5L299.9 101.5L294.7 100.6L292.3 102.8L293.2 104.8L297.0 106.4L287.2 112.2L278.1 107.6L274.0 108.5L272.8 111.2L268.1 110.7L267.6 107.6L270.6 105.3Z" fill="#f0901e" />
<path d="M264.6 98.1L286.6 84.5L286.6 87.9L264.6 101.5Z" fill="#f0901e" />
<path d="M286.6 84.5L307.5 96.9L307.5 100.3L286.6 87.9Z" fill="#f0901e" />
<path d="M307.5 96.9L302.4 100.1L302.4 103.5L307.5 100.3Z" fill="#e47a16" />
<path d="M302.4 100.1L299.9 98.1L299.9 101.5L302.4 103.5Z" fill="#f0901e" />
<path d="M299.9 98.1L294.7 97.2L294.7 100.6L299.9 101.5Z" fill="#f0901e" />
<path d="M294.7 97.2L292.3 99.4L292.3 102.8L294.7 100.6Z" fill="#e47a16" />
<path d="M292.3 99.4L293.2 101.5L293.2 104.8L292.3 102.8Z" fill="#f0901e" />
<path d="M293.2 101.5L297.0 103.0L297.0 106.4L293.2 104.8Z" fill="#f0901e" />
<path d="M297.0 103.0L287.2 108.8L287.2 112.2L297.0 106.4Z" fill="#e47a16" />
<path d="M287.2 108.8L278.1 104.2L278.1 107.6L287.2 112.2Z" fill="#f0901e" />
<path d="M278.1 104.2L274.0 105.1L274.0 108.5L278.1 107.6Z" fill="#e47a16" />
<path d="M274.0 105.1L272.8 107.8L272.8 111.2L274.0 108.5Z" fill="#e47a16" />
<path d="M272.8 107.8L268.1 107.3L268.1 110.7L272.8 111.2Z" fill="#f0901e" />
<path d="M268.1 107.3L267.6 104.2L267.6 107.6L268.1 110.7Z" fill="#f0901e" />
<path d="M267.6 104.2L270.6 101.9L270.6 105.3L267.6 107.6Z" fill="#f0901e" />
<path d="M270.6 101.9L264.6 98.1L264.6 101.5L270.6 105.3Z" fill="#f0901e" />
<path d="M264.6 98.1L286.6 84.5L307.5 96.9L302.4 100.1L299.9 98.1L294.7 97.2L292.3 99.4L293.2 101.5L297.0 103.0L287.2 108.8L278.1 104.2L274.0 105.1L272.8 107.8L268.1 107.3L267.6 104.2L270.6 101.9Z" fill="#f9cb1e" />
<path d="M292.3 117.6L297.9 113.4L296.8 108.7L299.9 105.3L304.9 105.7L306.9 109.1L313.7 105.3L335.7 117.0L309.2 129.7L304.9 127.2L302.4 130.6L298.4 131.3L295.4 128.6L295.9 124.7L299.3 122.9Z" fill="#6c8bd8" />
<path d="M292.3 114.4L297.9 110.3L297.9 113.4L292.3 117.6Z" fill="#6c8bd8" />
<path d="M297.9 110.3L296.8 105.5L296.8 108.7L297.9 113.4Z" fill="#6c8bd8" />
<path d="M296.8 105.5L299.9 102.1L299.9 105.3L296.8 108.7Z" fill="#6c8bd8" />
<path d="M299.9 102.1L304.9 102.6L304.9 105.7L299.9 105.3Z" fill="#6c8bd8" />
<path d="M304.9 102.6L306.9 106.0L306.9 109.1L304.9 105.7Z" fill="#6c8bd8" />
<path d="M306.9 106.0L313.7 102.1L313.7 105.3L306.9 109.1Z" fill="#6c8bd8" />
<path d="M313.7 102.1L335.7 113.9L335.7 117.0L313.7 105.3Z" fill="#6c8bd8" />
<path d="M335.7 113.9L309.2 126.5L309.2 129.7L335.7 117.0Z" fill="#3a4fb0" />
<path d="M309.2 126.5L304.9 124.0L304.9 127.2L309.2 129.7Z" fill="#6c8bd8" />
<path d="M304.9 124.0L302.4 127.4L302.4 130.6L304.9 127.2Z" fill="#3a4fb0" />
<path d="M302.4 127.4L298.4 128.1L298.4 131.3L302.4 130.6Z" fill="#3a4fb0" />
<path d="M298.4 128.1L295.4 125.4L295.4 128.6L298.4 131.3Z" fill="#6c8bd8" />
<path d="M295.4 125.4L295.9 121.6L295.9 124.7L295.4 128.6Z" fill="#6c8bd8" />
<path d="M295.9 121.6L299.3 119.7L299.3 122.9L295.9 124.7Z" fill="#6c8bd8" />
<path d="M299.3 119.7L292.3 114.4L292.3 117.6L299.3 122.9Z" fill="#6c8bd8" />
<path d="M292.3 114.4L297.9 110.3L296.8 105.5L299.9 102.1L304.9 102.6L306.9 106.0L313.7 102.1L335.7 113.9L309.2 126.5L304.9 124.0L302.4 127.4L298.4 128.1L295.4 125.4L295.9 121.6L299.3 119.7Z" fill="#8fa9e6" />
<path d="M248.6 123.7L272.2 112.0L282.2 118.8L273.1 123.6L271.9 120.2L268.3 118.8L265.8 121.1L267.2 124.9L269.0 125.8L260.8 130.2Z" fill="#4aa866" />
<path d="M248.6 120.8L272.2 109.0L272.2 112.0L248.6 123.7Z" fill="#4aa866" />
<path d="M272.2 109.0L282.2 115.9L282.2 118.8L272.2 112.0Z" fill="#4aa866" />
<path d="M282.2 115.9L273.1 120.7L273.1 123.6L282.2 118.8Z" fill="#348a4e" />
<path d="M273.1 120.7L271.9 117.3L271.9 120.2L273.1 123.6Z" fill="#4aa866" />
<path d="M271.9 117.3L268.3 115.9L268.3 118.8L271.9 120.2Z" fill="#4aa866" />
<path d="M268.3 115.9L265.8 118.2L265.8 121.1L268.3 118.8Z" fill="#348a4e" />
<path d="M265.8 118.2L267.2 122.0L267.2 124.9L265.8 121.1Z" fill="#4aa866" />
<path d="M267.2 122.0L269.0 122.9L269.0 125.8L267.2 124.9Z" fill="#4aa866" />
<path d="M269.0 122.9L260.8 127.3L260.8 130.2L269.0 125.8Z" fill="#348a4e" />
<path d="M260.8 127.3L248.6 120.8L248.6 123.7L260.8 130.2Z" fill="#4aa866" />
<path d="M248.6 120.8L272.2 109.0L282.2 115.9L273.1 120.7L271.9 117.3L268.3 115.9L265.8 118.2L267.2 122.0L269.0 122.9L260.8 127.3Z" fill="#6cc27c" />
<path d="M264.6 136.0L272.2 131.7L269.0 128.8L270.1 125.4L274.2 124.0L276.7 126.3L277.1 128.8L286.6 123.0L290.2 124.9L289.6 127.9L291.4 130.4L294.1 130.1L294.7 127.9L299.3 130.6L297.0 132.2L292.3 132.6L291.4 134.4L294.5 136.0L298.8 135.1L302.4 132.6L307.5 135.4L286.6 148.4Z" fill="#d8202c" />
<path d="M264.6 133.1L272.2 128.8L272.2 131.7L264.6 136.0Z" fill="#d8202c" />
<path d="M272.2 128.8L269.0 125.8L269.0 128.8L272.2 131.7Z" fill="#d8202c" />
<path d="M269.0 125.8L270.1 122.5L270.1 125.4L269.0 128.8Z" fill="#d8202c" />
<path d="M270.1 122.5L274.2 121.1L274.2 124.0L270.1 125.4Z" fill="#d8202c" />
<path d="M274.2 121.1L276.7 123.4L276.7 126.3L274.2 124.0Z" fill="#d8202c" />
<path d="M276.7 123.4L277.1 125.8L277.1 128.8L276.7 126.3Z" fill="#d8202c" />
<path d="M277.1 125.8L286.6 120.1L286.6 123.0L277.1 128.8Z" fill="#d8202c" />
<path d="M286.6 120.1L290.2 122.0L290.2 124.9L286.6 123.0Z" fill="#d8202c" />
<path d="M290.2 122.0L289.6 124.9L289.6 127.9L290.2 124.9Z" fill="#b81824" />
<path d="M289.6 124.9L291.4 127.4L291.4 130.4L289.6 127.9Z" fill="#d8202c" />
<path d="M291.4 127.4L294.1 127.2L294.1 130.1L291.4 130.4Z" fill="#d8202c" />
<path d="M294.1 127.2L294.7 124.9L294.7 127.9L294.1 130.1Z" fill="#d8202c" />
<path d="M294.7 124.9L299.3 127.7L299.3 130.6L294.7 127.9Z" fill="#d8202c" />
<path d="M299.3 127.7L297.0 129.2L297.0 132.2L299.3 130.6Z" fill="#b81824" />
<path d="M297.0 129.2L292.3 129.7L292.3 132.6L297.0 132.2Z" fill="#b81824" />
<path d="M292.3 129.7L291.4 131.5L291.4 134.4L292.3 132.6Z" fill="#b81824" />
<path d="M291.4 131.5L294.5 133.1L294.5 136.0L291.4 134.4Z" fill="#d8202c" />
<path d="M294.5 133.1L298.8 132.2L298.8 135.1L294.5 136.0Z" fill="#d8202c" />
<path d="M298.8 132.2L302.4 129.7L302.4 132.6L298.8 135.1Z" fill="#d8202c" />
<path d="M302.4 129.7L307.5 132.5L307.5 135.4L302.4 132.6Z" fill="#d8202c" />
<path d="M307.5 132.5L286.6 145.5L286.6 148.4L307.5 135.4Z" fill="#b81824" />
<path d="M286.6 145.5L264.6 133.1L264.6 136.0L286.6 148.4Z" fill="#d8202c" />
<path d="M264.6 133.1L272.2 128.8L269.0 125.8L270.1 122.5L274.2 121.1L276.7 123.4L277.1 125.8L286.6 120.1L290.2 122.0L289.6 124.9L291.4 127.4L294.1 127.2L294.7 124.9L299.3 127.7L297.0 129.2L292.3 129.7L291.4 131.5L294.5 133.1L298.8 132.2L302.4 129.7L307.5 132.5L286.6 145.5Z" fill="#ee3a43" />
<path d="M271.1 96.5L279.4 92.4L287.1 97.9L278.8 101.9Z" fill="#fbf6f4" />
<path d="M275.1 96.5L280.8 99.3" fill="none" stroke="#e9b0b0" stroke-width="0.43" stroke-linecap="round" stroke-linejoin="round" />
<path d="M277.9 94.7L283.6 97.6" fill="none" stroke="#b9c6ee" stroke-width="0.43" stroke-linecap="round" stroke-linejoin="round" />
<path d="M269.1 131.1L278.8 126.5L286.8 131.4L277.1 136.2Z" fill="#fbf6f4" />
<path d="M272.8 131.4L277.9 133.9" fill="none" stroke="#e9b0b0" stroke-width="0.43" stroke-linecap="round" stroke-linejoin="round" />
<circle cx="278.8" cy="129.9" r="1.00" fill="#9db4ee"/>
<circle cx="275.1" cy="132.2" r="0.72" fill="#e8343f"/>
<path d="M305.7 108.8L313.7 105.3L318.5 109.0L310.5 113.0Z" fill="#fbf6f4" />
<circle cx="313.7" cy="108.5" r="1.29" fill="#8fa9e6"/>
<rect x="310.8" y="114.5" width="5.4" height="6.6" rx="1.4" fill="#d8202c"/>
<ellipse cx="313.5" cy="114.9" rx="2.72" ry="1.14" fill="#b0101c" transform="rotate(0 313.5 114.9)"/>
<circle cx="310.0" cy="117.3" r="1.14" fill="none" stroke="#d8202c" stroke-width="0.72"/>
<path d="M236.5 149.4L220.7 153.4" fill="none" stroke="#1a2562" stroke-width="2.29" stroke-linecap="round" stroke-linejoin="round" />
<circle cx="220.7" cy="153.4" r="1.72" fill="#1a2562"/>
<path d="M236.5 149.4L234.3 161.5" fill="none" stroke="#1a2562" stroke-width="2.29" stroke-linecap="round" stroke-linejoin="round" />
<circle cx="234.3" cy="161.5" r="1.72" fill="#1a2562"/>
<path d="M236.5 149.4L252.5 156.5" fill="none" stroke="#1a2562" stroke-width="2.29" stroke-linecap="round" stroke-linejoin="round" />
<circle cx="252.5" cy="156.5" r="1.72" fill="#1a2562"/>
<path d="M236.5 149.4L249.3 145.1" fill="none" stroke="#1a2562" stroke-width="2.29" stroke-linecap="round" stroke-linejoin="round" />
<circle cx="249.3" cy="145.1" r="1.72" fill="#1a2562"/>
<path d="M236.5 149.4L229.3 143.6" fill="none" stroke="#1a2562" stroke-width="2.29" stroke-linecap="round" stroke-linejoin="round" />
<circle cx="229.3" cy="143.6" r="1.72" fill="#1a2562"/>
<path d="M236.5 137.9L236.5 150.1" fill="none" stroke="#1a2562" stroke-width="2.00" stroke-linecap="butt" stroke-linejoin="round" />
<path d="M252.5 132.2L257.6 131.1L257.9 149.4L255.6 149.9Z" fill="#d98b6a" />
<path d="M252.5 148.2L257.9 147.4L261.1 149.9L260.2 153.1L257.3 151.7L255.0 153.9L253.3 153.4Z" fill="#e8343f" />
<path d="M239.3 129.3C240.4 127.9 248.9 125.1 250.8 125.1C252.6 125.1 257.2 128.3 257.9 129.3C258.6 130.3 258.3 133.9 257.3 135.1C256.3 136.2 249.7 140.6 247.9 141.1C246.1 141.5 240.5 140.5 239.6 139.4C238.7 138.2 238.2 130.8 239.3 129.3Z" fill="#1f2d8b" />
<path d="M252.5 96.5L266.5 103.0L266.5 115.8L252.5 109.3Z" fill="#4a4a52" />
<path d="M253.6 98.5L265.5 104.0L265.5 113.9L253.6 108.2Z" fill="#9db8f0" />
<path d="M252.5 108.5L266.5 114.8L257.3 120.5L246.8 114.2Z" fill="#4e4e56" />
<path d="M253.3 110.2L264.5 115.2L257.9 119.1L248.8 114.2Z" fill="#6a6a72" />
<path d="M235.0 116.5C235.3 115.0 238.0 111.5 239.3 110.8C240.6 110.0 246.2 109.0 247.9 109.3C249.6 109.7 255.0 113.5 255.9 114.5C256.8 115.5 257.1 118.7 256.5 119.3C255.8 120.0 250.5 119.9 249.3 120.8C248.2 121.7 246.3 127.8 245.0 128.2C243.7 128.6 237.5 126.2 236.5 125.1C235.5 123.9 234.7 117.9 235.0 116.5Z" fill="#e8343f" />
<path d="M248.8 112.5C248.8 111.0 251.4 109.3 252.5 109.3C253.5 109.3 255.0 111.0 255.0 112.5C255.0 113.9 253.5 117.9 252.5 117.9C251.4 117.9 248.8 113.9 248.8 112.5Z" fill="#e8343f" />
<path d="M241.6 105.0C242.0 103.8 242.8 100.6 243.6 99.9C244.4 99.2 247.8 98.7 248.8 99.0C249.7 99.4 251.3 102.0 251.6 103.0C251.9 104.1 251.4 107.0 251.0 107.9C250.7 108.8 249.3 109.8 248.8 110.8C248.3 111.8 247.4 115.1 246.8 116.5C246.1 117.8 244.2 121.5 243.0 122.2C241.8 122.9 237.6 122.8 236.5 122.2C235.4 121.6 233.6 118.5 233.6 117.3C233.6 116.2 235.7 113.2 236.5 112.5C237.2 111.7 239.6 111.6 240.2 110.8C240.8 109.9 241.2 106.3 241.6 105.0Z" fill="#5e2c24" />
<path d="M248.8 103.0C249.2 102.2 251.0 102.8 251.6 103.6C252.2 104.4 252.7 106.5 252.5 107.6C252.3 108.7 251.1 110.0 250.5 110.2C249.8 110.4 249.0 109.9 248.8 108.8C248.5 107.6 248.3 103.9 248.8 103.0Z" fill="#f2b48c" />
<path d="M244.5 101.0L248.2 100.2L250.8 102.5" fill="none" stroke="#e8343f" stroke-width="0.72" stroke-linecap="round" stroke-linejoin="round" />
<path d="M221.6 116.7C221.7 114.9 222.8 116.1 224.4 117.0C226.0 117.9 235.9 124.3 237.4 125.9C239.0 127.5 239.6 131.3 239.8 133.4C240.0 135.5 239.7 145.6 239.3 146.9C238.9 148.2 237.0 147.0 235.7 146.4C234.5 145.8 228.3 142.1 227.0 141.1C225.8 140.0 223.7 138.2 223.2 135.8C222.7 133.3 221.5 118.6 221.6 116.7Z" fill="#1c2660" />
<path d="M225.1 122.3C226.1 121.8 234.0 127.6 235.2 128.8C236.5 130.0 237.2 133.1 237.4 134.6C237.6 136.0 237.8 143.1 236.9 143.5C236.0 143.9 229.7 139.4 228.5 138.4C227.3 137.4 225.7 135.0 225.4 133.4C225.0 131.8 224.1 122.7 225.1 122.3Z" fill="#5b8ad8" />
<path d="M226.1 124.2C226.3 123.3 229.0 124.9 229.5 126.1C229.9 127.4 230.7 136.1 230.4 137.0C230.2 137.9 227.5 136.1 227.0 134.8C226.6 133.5 225.8 125.1 226.1 124.2Z" fill="#7aa2e4" />
</g>
</svg>
<div class="t b" id="a1" style="left:350.4px;top:67.26px;letter-spacing:0.03px;">Accompagner la création et la</div>
<div class="t b" id="a2" style="left:361.7px;top:90.11px;letter-spacing:0.015px;">transmission d’entreprises</div>
<div class="t i" id="a3" style="left:445.6px;top:127.71px;letter-spacing:0px;">8,7&nbsp; M€</div>
<div class="t b" id="b1" style="left:179.5px;top:216.46px;letter-spacing:0.295px;">Formation qualifiante</div>
<div class="t b" id="b2" style="left:186.9px;top:238.86px;letter-spacing:0.03px;">et parcours intégrés</div>
<div class="t i" id="b3" style="left:246px;top:272.51px;letter-spacing:0px;">40 M€</div>
<div class="t b" id="c1" style="left:122.8px;top:416.36px;letter-spacing:-0.01px;">Prévention et parcours de soin</div>
<div class="t i" id="c3" style="left:225.6px;top:449.01px;letter-spacing:0px;">5,7&nbsp; M€</div>
<div class="t b" id="d1" style="left:821.3px;top:239.66px;letter-spacing:0.19px;">Orienter tout au long de la vie et</div>
<div class="t b" id="d2" style="left:808.7px;top:262.46px;letter-spacing:0.06px;">lutter contre le décrochage scolaire</div>
<div class="t i" id="d3" style="left:957.9px;top:299.41px;letter-spacing:0px;">7,6 M€</div>
<div class="t b" id="e1" style="left:706.7px;top:540.46px;letter-spacing:0.13px;">Gestion administrative</div>
<div class="t i" id="e3" style="left:759.9px;top:576.71px;letter-spacing:0px;">2,5&nbsp; M€</div>
<div class="t" id="f1" style="left:522.8px;top:300.42px;font-weight:bold;font-size:28.8px;transform-origin:0 0;transform:scaleX(0.852);-webkit-text-stroke:0.3px #0b0b0b;">FSE +</div>
<div class="t" id="f2" style="left:505px;top:336.52px;font-size:28.8px;letter-spacing:-0.03px;">64,5 M€</div>
</body>
</html>
